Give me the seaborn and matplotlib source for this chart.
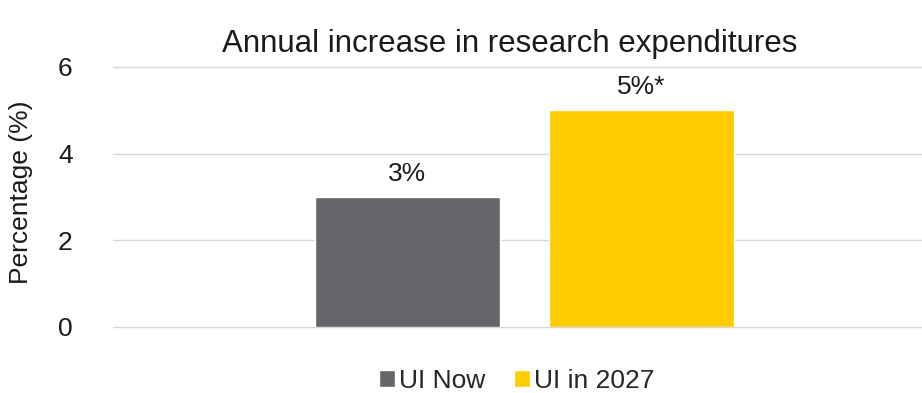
import matplotlib
matplotlib.use("Agg")
import matplotlib.pyplot as plt
import seaborn as sns
import pandas as pd

categories = ["Annual increase"]
series = ["UI Now", "UI in 2027"]
values = [3, 5]
labels = ["3%", "5%*"]
colors = ["#636569", "#FFCC00"]
yticks = [0, 2, 4, 6]

df = pd.DataFrame({"cat": categories * len(series), "series": series, "value": values})

sns.set_theme(style="white")
plt.rcParams["font.family"] = ["Liberation Sans", "DejaVu Sans"]

fig = plt.figure(figsize=(9.22, 3.93), dpi=100)
ax = fig.add_axes([113/922, 1-327/393, (922-113)/922, (327-67)/393])

sns.barplot(data=df, x="cat", y="value", hue="series", palette=colors,
            width=0.8, gap=0.21, ax=ax, legend=True, saturation=1, zorder=3)

for cont, lab in zip(ax.containers, labels):
    ax.bar_label(cont, labels=[lab], padding=8, fontsize=19, color="#1a1a1a")

ax.set_xlim(-0.703, 0.679)
ax.set_ylim(0, 6)
ax.set_yticks(yticks)
ax.set_yticklabels([str(t) for t in yticks], fontsize=19, color="#1a1a1a")
ax.tick_params(axis="y", length=0, pad=29)
ax.set_xticks([])
ax.set_xlabel("")
ax.set_ylabel("Percentage (%)", fontsize=19, color="#1a1a1a")
ax.yaxis.set_label_coords(-(113-33)/809, 0.52)
ax.yaxis.grid(True, color="#D9D9D9", linewidth=1, clip_on=False)
for gl in ax.get_ygridlines():
    gl.set_clip_on(False)
ax.set_axisbelow(True)
for s in ax.spines.values():
    s.set_visible(False)

ax.set_title("Annual increase in research expenditures", fontsize=22.5, color="#1a1a1a",
             pad=11, x=(510-113)/809)

ax.legend(loc="center", bbox_to_anchor=((517-113)/809, (327-381)/260), bbox_transform=ax.transAxes,
          ncol=2, frameon=False, fontsize=19, handlelength=0.6, handleheight=0.6,
          handletextpad=0.15, columnspacing=1.1)

fig.savefig("out.png", dpi=100)
